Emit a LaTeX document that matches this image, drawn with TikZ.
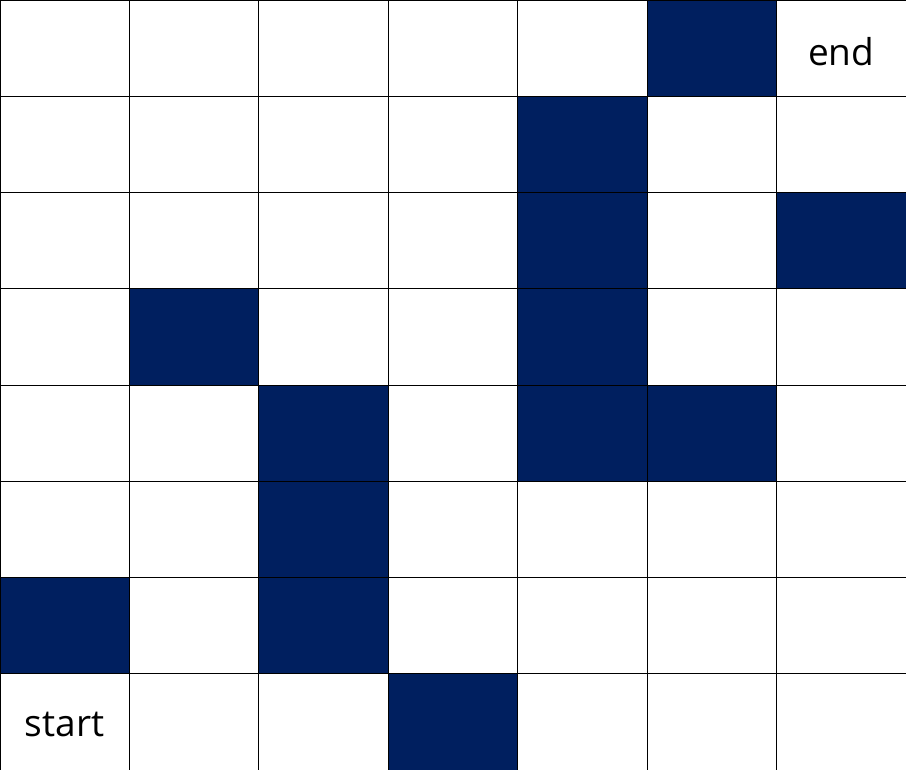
\documentclass[tikz,border=0pt]{standalone}
\usepackage{fontspec}
\setmainfont{Open Sans}
\definecolor{navy}{HTML}{001F5F}
\begin{document}
\begin{tikzpicture}[x=1pt,y=-1pt,
  cell/.style={draw=black,line width=0.9pt},
  dark/.style={cell,fill=navy},
  lbl/.style={font=\fontsize{37}{40}\selectfont,inner sep=0pt}]
\useasboundingbox (0,0) rectangle (906,770);
\def\cw{129.4286}
\def\ch{96.25}
\foreach \c in {0,...,6}{
  \foreach \r in {0,...,7}{
    \draw[cell] (\c*\cw,\r*\ch) rectangle ++(\cw,\ch);
  }
}
\foreach \c/\r in {5/0,4/1,4/2,6/2,1/3,4/3,2/4,4/4,5/4,2/5,0/6,2/6,3/7}{
  \filldraw[dark] (\c*\cw,\r*\ch) rectangle ++(\cw,\ch);
}
\node[lbl] (end) at (6.5*\cw,0.5*\ch+4) {end};
\node[lbl] (start) at (0.5*\cw,7.5*\ch+3) {start};
\end{tikzpicture}
\end{document}
